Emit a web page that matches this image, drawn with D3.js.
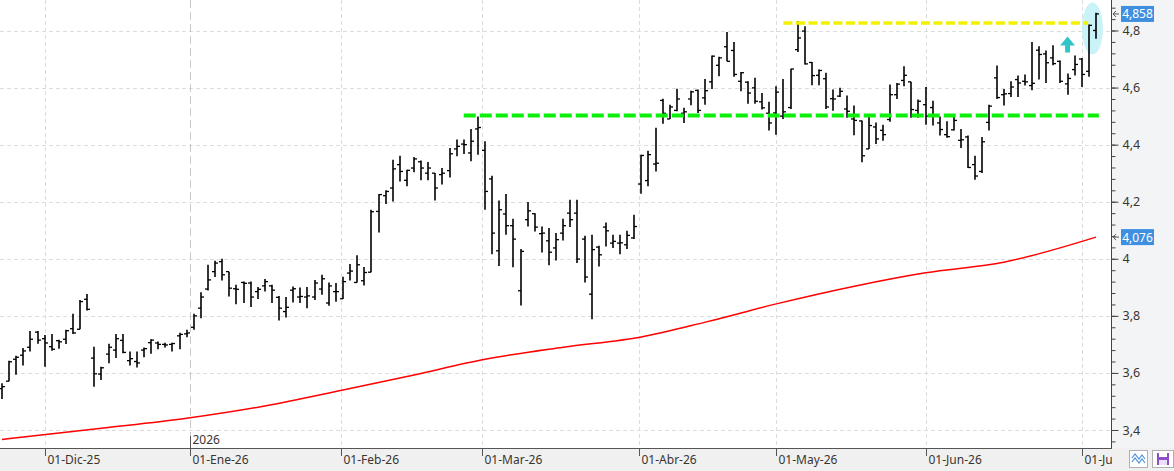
<!DOCTYPE html>
<html>
<head>
<meta charset="utf-8">
<script src="https://cdn.jsdelivr.net/npm/d3@7"></script>
<style>
body { margin: 0; background: #fff; }
text { font-family: "Noto Sans", "DejaVu Sans", sans-serif; }
</style>
</head>
<body>
<script>
// daily OHLC bars, 21-Nov-25 .. 03-Jul-26 (one entry per trading day)
var opens = [3.545,3.571,3.648,3.662,3.690,3.743,3.720,3.692,3.713,3.718,
    3.755,3.753,3.858,3.652,3.596,3.666,3.680,3.714,3.643,3.640,
    3.680,3.706,3.705,3.700,3.700,3.730,3.737,3.760,3.827,3.894,
    3.955,3.990,3.955,3.895,3.917,3.915,3.885,3.905,3.905,3.865,
    3.815,3.890,3.866,3.866,3.866,3.894,3.845,3.885,3.860,3.950,
    3.917,3.923,3.953,4.166,4.221,4.248,4.330,4.275,4.318,4.340,
    4.300,4.300,4.295,4.309,4.385,4.402,4.371,4.455,4.380,4.280,
    4.028,4.157,4.116,3.888,4.137,4.158,4.088,4.063,4.038,4.090,
    4.160,4.160,4.069,3.876,4.041,4.111,4.055,4.055,4.049,4.073,
    4.262,4.274,4.332,4.555,4.490,4.520,4.510,4.560,4.590,4.564,
    4.620,4.678,4.743,4.730,4.622,4.619,4.599,4.550,4.510,4.511,
    4.500,4.530,4.733,4.798,4.688,4.643,4.631,4.561,4.570,4.525,
    4.490,4.483,4.385,4.462,4.450,4.488,4.575,4.625,4.620,4.520,
    4.540,4.530,4.476,4.435,4.452,4.415,4.427,4.330,4.306,4.478,
    4.634,4.575,4.579,4.628,4.622,4.607,4.731,4.718,4.704,4.692,
    4.613,4.663,4.700,4.657,4.800];
var highs = [3.564,3.643,3.660,3.687,3.747,3.747,3.733,3.736,3.716,3.751,
    3.807,3.856,3.877,3.692,3.622,3.702,3.736,3.736,3.675,3.675,
    3.689,3.718,3.710,3.706,3.706,3.741,3.751,3.807,3.883,3.979,
    3.993,4.000,3.955,3.909,3.920,3.920,3.901,3.929,3.909,3.870,
    3.866,3.903,3.899,3.901,3.926,3.944,3.917,3.915,3.937,3.982,
    4.012,3.971,4.172,4.227,4.240,4.347,4.361,4.312,4.357,4.344,
    4.339,4.301,4.318,4.388,4.418,4.418,4.455,4.499,4.412,4.291,
    4.204,4.227,4.140,4.034,4.199,4.160,4.113,4.108,4.090,4.140,
    4.207,4.207,4.081,4.084,4.046,4.127,4.084,4.084,4.098,4.154,
    4.365,4.379,4.459,4.561,4.540,4.596,4.529,4.589,4.593,4.630,
    4.712,4.708,4.795,4.760,4.655,4.622,4.634,4.581,4.550,4.605,
    4.630,4.666,4.833,4.815,4.690,4.663,4.652,4.593,4.599,4.572,
    4.537,4.485,4.497,4.478,4.470,4.611,4.616,4.675,4.620,4.558,
    4.602,4.554,4.499,4.482,4.499,4.455,4.432,4.361,4.427,4.540,
    4.677,4.595,4.622,4.642,4.646,4.760,4.745,4.730,4.748,4.695,
    4.649,4.712,4.704,4.821,4.862];
var lows = [3.509,3.571,3.594,3.626,3.675,3.702,3.622,3.678,3.685,3.701,
    3.736,3.753,3.819,3.552,3.575,3.634,3.652,3.669,3.626,3.619,
    3.655,3.667,3.683,3.689,3.675,3.683,3.725,3.751,3.792,3.889,
    3.936,3.924,3.868,3.841,3.845,3.831,3.859,3.885,3.845,3.784,
    3.794,3.847,3.845,3.827,3.856,3.874,3.835,3.849,3.859,3.924,
    3.917,3.906,3.953,4.092,4.192,4.201,4.271,4.254,4.303,4.275,
    4.275,4.204,4.260,4.285,4.359,4.367,4.342,4.365,4.172,4.016,
    3.975,4.084,3.970,3.836,4.113,4.096,4.022,3.977,3.994,4.064,
    4.111,3.985,3.917,3.788,3.973,4.043,4.038,4.016,4.034,4.069,
    4.228,4.254,4.306,4.473,4.490,4.517,4.476,4.538,4.511,4.540,
    4.595,4.640,4.692,4.638,4.587,4.543,4.543,4.523,4.450,4.435,
    4.490,4.525,4.725,4.681,4.608,4.608,4.525,4.519,4.567,4.494,
    4.433,4.338,4.385,4.402,4.414,4.480,4.560,4.605,4.494,4.494,
    4.470,4.467,4.432,4.424,4.450,4.388,4.318,4.277,4.301,4.450,
    4.560,4.537,4.567,4.567,4.607,4.591,4.628,4.616,4.678,4.616,
    4.575,4.642,4.602,4.638,4.771];
var closes = [3.552,3.639,3.655,3.677,3.718,3.715,3.705,3.683,3.709,3.748,
    3.740,3.850,3.823,3.597,3.618,3.690,3.720,3.672,3.650,3.635,
    3.685,3.715,3.700,3.698,3.703,3.735,3.740,3.800,3.866,3.926,
    3.985,3.944,3.897,3.893,3.914,3.866,3.893,3.920,3.890,3.827,
    3.830,3.895,3.868,3.870,3.915,3.930,3.905,3.885,3.920,3.957,
    3.979,3.952,4.165,4.225,4.236,4.315,4.306,4.310,4.350,4.318,
    4.318,4.248,4.300,4.368,4.394,4.400,4.412,4.460,4.236,4.090,
    4.172,4.116,4.069,4.026,4.168,4.111,4.090,4.023,4.067,4.116,
    4.137,3.999,3.936,4.032,4.014,4.098,4.061,4.056,4.082,4.113,
    4.362,4.365,4.335,4.510,4.532,4.560,4.515,4.585,4.520,4.589,
    4.710,4.704,4.692,4.646,4.652,4.581,4.552,4.529,4.476,4.584,
    4.515,4.665,4.774,4.683,4.642,4.660,4.532,4.560,4.587,4.517,
    4.485,4.361,4.467,4.420,4.435,4.575,4.612,4.643,4.523,4.552,
    4.500,4.500,4.453,4.428,4.485,4.417,4.320,4.290,4.410,4.535,
    4.565,4.578,4.602,4.616,4.620,4.615,4.716,4.687,4.684,4.622,
    4.632,4.681,4.646,4.818,4.858];

// 200-session moving average, read at a few bars
var maIndex = [0, 14, 26, 37, 48, 58, 68, 79, 90, 99, 109, 120, 130, 141, 154];
var maValues = [3.367, 3.406, 3.441, 3.484, 3.540, 3.593, 3.648, 3.690, 3.726,
    3.778, 3.842, 3.904, 3.951, 3.988, 4.076];

var monthLabels = ["01-Dic-25", "01-Ene-26", "01-Feb-26", "01-Mar-26",
    "01-Abr-26", "01-May-26", "01-Jun-26", "01-Jul-26"];
var monthIndex = [6, 26.5, 47.7, 67.6, 89.7, 109, 130, 152];
var yearLabel = "2026";

var priceTicks = [3.4, 3.6, 3.8, 4, 4.2, 4.4, 4.6, 4.8];

// drawn studies: support, resistance, highlight
var support = {level: 4.502, from: 65, to: 154.4};
var resistance = {level: 4.828, from: 110, to: 152.9};
var highlight = {index: 153.5, value: 4.807};
var arrowMark = {index: 150, top: 4.779, bottom: 4.723};

var width = 1174;
var height = 471;
var plotRight = 1112;
var plotBottom = 448;

var locale = d3.formatLocale({decimal: ",", thousands: ".", grouping: [3], currency: ["", "€"]});
var fmtAxis = locale.format(".2~f");
var fmtBadge = locale.format(".3f");

var svg = d3.select("body").append("svg")
    .attr("width", width)
    .attr("height", height);

var x = d3.scaleLinear().domain([0, 154]).range([2, 1096]);
var y = d3.scaleLinear().domain([3.4, 4.8]).range([430, 30.5]);

// backgrounds
svg.append("rect").attr("x", 0).attr("y", 0).attr("width", width).attr("height", height).attr("fill", "#fff");
svg.append("rect").attr("x", 0).attr("y", plotBottom).attr("width", width).attr("height", height - plotBottom).attr("fill", "#f0f0f0");
svg.append("rect").attr("x", plotRight).attr("y", 0).attr("width", width - plotRight).attr("height", plotBottom).attr("fill", "#f3f4f6");

// grid
svg.append("g").selectAll("line")
    .data(priceTicks)
    .enter()
    .append("line")
    .attr("x1", 0)
    .attr("x2", plotRight)
    .attr("y1", function(d){ return Math.round(y(d)) + 0.5; })
    .attr("y2", function(d){ return Math.round(y(d)) + 0.5; })
    .attr("stroke", "#dcdcdc")
    .attr("stroke-dasharray", "4,3");

svg.append("g").selectAll("line")
    .data(monthIndex)
    .enter()
    .append("line")
    .attr("x1", function(d){ return Math.round(x(d)) + 0.5; })
    .attr("x2", function(d){ return Math.round(x(d)) + 0.5; })
    .attr("y1", 0)
    .attr("y2", plotBottom)
    .attr("stroke", function(d, i){ return i == 1 ? "#c8c8c8" : "#dcdcdc"; })
    .attr("stroke-dasharray", function(d, i){ return i == 1 ? "8,4" : "4,3"; });

// highlight ellipse behind the last bars
svg.append("ellipse")
    .attr("cx", x(highlight.index))
    .attr("cy", y(highlight.value))
    .attr("rx", 10.5)
    .attr("ry", 26)
    .attr("fill", "#c9f3f9");

// moving average
var maLine = d3.line()
    .x(function(d){ return x(d[0]); })
    .y(function(d){ return y(d[1]); })
    .curve(d3.curveMonotoneX);

svg.append("path")
    .datum(d3.zip(maIndex, maValues))
    .attr("d", maLine)
    .attr("fill", "none")
    .attr("stroke", "#ff0000")
    .attr("stroke-width", 1.5);

// OHLC bars
var bars = svg.append("g").selectAll("g")
    .data(d3.range(opens.length))
    .enter()
    .append("g")
    .attr("stroke", "#000")
    .attr("stroke-width", 1.6);

bars.append("line")
    .attr("x1", function(i){ return Math.round(x(i)); })
    .attr("x2", function(i){ return Math.round(x(i)); })
    .attr("y1", function(i){ return y(highs[i]); })
    .attr("y2", function(i){ return y(lows[i]); });

bars.append("line")
    .attr("x1", function(i){ return Math.round(x(i)) - 3; })
    .attr("x2", function(i){ return Math.round(x(i)); })
    .attr("y1", function(i){ return y(opens[i]); })
    .attr("y2", function(i){ return y(opens[i]); })
    .attr("stroke-width", 1.3);

bars.append("line")
    .attr("x1", function(i){ return Math.round(x(i)); })
    .attr("x2", function(i){ return Math.round(x(i)) + 3; })
    .attr("y1", function(i){ return y(closes[i]); })
    .attr("y2", function(i){ return y(closes[i]); })
    .attr("stroke-width", 1.3);

// support / resistance
svg.append("line")
    .attr("x1", x(support.from))
    .attr("x2", x(support.to))
    .attr("y1", y(support.level))
    .attr("y2", y(support.level))
    .attr("stroke", "#0af00a")
    .attr("stroke-width", 4)
    .attr("stroke-dasharray", "12,4");

svg.append("line")
    .attr("x1", x(resistance.from))
    .attr("x2", x(resistance.to))
    .attr("y1", Math.round(y(resistance.level)))
    .attr("y2", Math.round(y(resistance.level)))
    .attr("stroke", "#f2f200")
    .attr("stroke-width", 3.5)
    .attr("stroke-dasharray", "9,3.5");

// up arrow
var ax = x(arrowMark.index);
var at = y(arrowMark.top);
var ab = y(arrowMark.bottom);
svg.append("path")
    .attr("d", "M" + ax + "," + at + " L" + (ax + 7.5) + "," + (at + 9) + " L" + (ax + 2.5) + "," + (at + 9) +
        " L" + (ax + 2.5) + "," + ab + " L" + (ax - 2.5) + "," + ab + " L" + (ax - 2.5) + "," + (at + 9) +
        " L" + (ax - 7.5) + "," + (at + 9) + " Z")
    .attr("fill", "#33c4c8");

// x axis
svg.append("line")
    .attr("x1", 0).attr("x2", plotRight)
    .attr("y1", plotBottom + 0.5).attr("y2", plotBottom + 0.5)
    .attr("stroke", "#555");

svg.append("defs").append("clipPath")
    .attr("id", "plotclip")
    .append("rect")
    .attr("x", 0).attr("y", 0).attr("width", plotRight).attr("height", height);

var months = svg.append("g").attr("clip-path", "url(#plotclip)")
    .selectAll("g")
    .data(monthIndex)
    .enter()
    .append("g")
    .attr("transform", function(d){ return "translate(" + (Math.round(x(d)) + 0.5) + ",0)"; });

months.append("line")
    .attr("y1", plotBottom).attr("y2", plotBottom + 8)
    .attr("stroke", "#555");

months.append("text")
    .text(function(d, i){ return monthLabels[i]; })
    .attr("x", 2)
    .attr("y", 464)
    .attr("font-size", "12px")
    .attr("fill", "#3a3530");

var yearX = Math.round(x(monthIndex[1])) + 0.5;
svg.append("line")
    .attr("x1", yearX).attr("x2", yearX)
    .attr("y1", 436).attr("y2", plotBottom)
    .attr("stroke", "#555");
svg.append("text")
    .text(yearLabel)
    .attr("x", yearX + 2)
    .attr("y", 444)
    .attr("font-size", "12px")
    .attr("fill", "#3a3530");

// right price axis
var minorTicks = d3.range(84, 123).map(function(k){ return k * 0.04; });

svg.append("g")
    .attr("transform", "translate(" + (plotRight - 0.5) + ",0)")
    .call(d3.axisRight(y).tickValues(minorTicks).tickSize(4).tickFormat(""))
    .call(function(g){ g.select(".domain").remove(); })
    .selectAll("line").attr("stroke", "#444");

var yAxis = svg.append("g")
    .attr("transform", "translate(" + (plotRight - 0.5) + ",0)")
    .call(d3.axisRight(y).tickValues(priceTicks).tickSize(7).tickPadding(4).tickFormat(fmtAxis));
yAxis.select(".domain").remove();
yAxis.selectAll("line").attr("stroke", "#444");
yAxis.selectAll("text")
    .attr("font-family", "Noto Sans, DejaVu Sans, sans-serif")
    .attr("font-size", "12.5px")
    .attr("fill", "#3a3530");

svg.append("line")
    .attr("x1", plotRight - 0.5).attr("x2", plotRight - 0.5)
    .attr("y1", 0).attr("y2", plotBottom)
    .attr("stroke", "#444");

// last value badges
var badges = svg.append("g").selectAll("g")
    .data([closes[closes.length - 1], maValues[maValues.length - 1]])
    .enter()
    .append("g")
    .attr("transform", function(d){ return "translate(0," + y(d) + ")"; });

badges.append("path")
    .attr("d", "M" + (plotRight + 7) + ",0 L" + (plotRight + 1) + ",0 M" + (plotRight + 4) + ",-3 L" + (plotRight + 1) + ",0 L" + (plotRight + 4) + ",3")
    .attr("fill", "none")
    .attr("stroke", "#555")
    .attr("stroke-width", 1);

badges.append("rect")
    .attr("x", 1121)
    .attr("y", -8)
    .attr("width", 33)
    .attr("height", 16)
    .attr("fill", "#3f8fe0");

badges.append("text")
    .text(function(d){ return fmtBadge(d); })
    .attr("x", 1137.5)
    .attr("y", 4.5)
    .attr("text-anchor", "middle")
    .attr("font-size", "12px")
    .attr("fill", "#fff");

// toolbar buttons in the corner
svg.append("rect")
    .attr("x", 1129.5).attr("y", 450.5).attr("width", 18).attr("height", 17)
    .attr("fill", "#fff").attr("stroke", "#b0b0b0");
svg.append("path")
    .attr("d", "M1132,458 L1135,454 L1139,459 L1142,455 L1145,459 M1132,462 L1135,458 L1139,463 L1142,459 L1145,463")
    .attr("fill", "none").attr("stroke", "#4a90d9").attr("stroke-width", 1.2);

svg.append("rect")
    .attr("x", 1152.5).attr("y", 450.5).attr("width", 21).attr("height", 17)
    .attr("fill", "#fff").attr("stroke", "#b0b0b0");
svg.append("rect")
    .attr("x", 1157).attr("y", 453).attr("width", 12).attr("height", 12)
    .attr("fill", "#8e4fc9");
svg.append("rect")
    .attr("x", 1159).attr("y", 453).attr("width", 8).attr("height", 4)
    .attr("fill", "#fff");
svg.append("rect")
    .attr("x", 1159).attr("y", 460).attr("width", 8).attr("height", 5)
    .attr("fill", "#e8e0f4");
</script>
</body>
</html>
